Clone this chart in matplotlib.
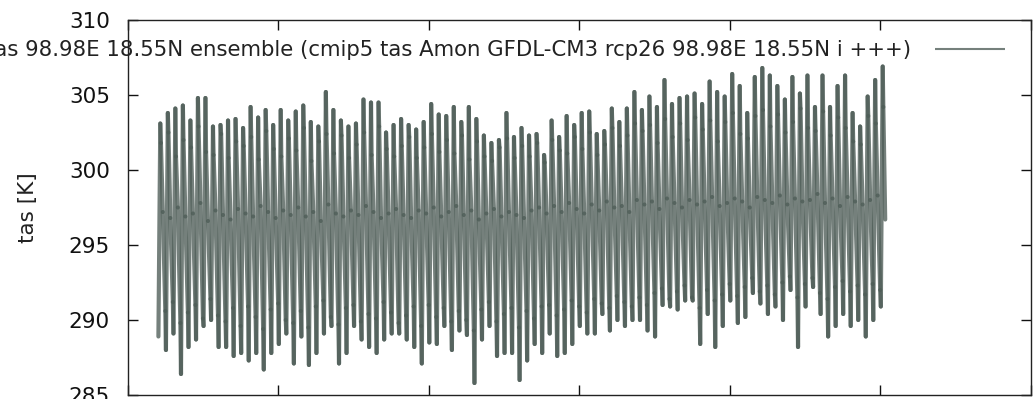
import numpy as np
import matplotlib
matplotlib.use("Agg")
import matplotlib.pyplot as plt
from matplotlib.collections import LineCollection

# Monthly near-surface air temperature at 98.98E 18.55N, GFDL-CM3 rcp26, in K.
# Each year is represented by five months: the cold-season trough (Jan),
# the hot-season peak (Apr) and its shoulder (May), the monsoon level (Aug)
# and the early cold season (Dec).
years = np.arange(2004, 2101)

jan_low = [
    288.9, 288.0, 289.1, 286.4, 288.2, 288.7, 289.6, 290.0, 288.2, 288.2, 287.6, 287.8,
    287.3, 287.8, 286.7, 287.8, 288.4, 289.1, 287.1, 288.9, 287.0, 287.8, 289.1, 289.6,
    287.1, 287.8, 289.6, 288.7, 288.2, 287.8, 288.7, 289.1,
    289.1, 288.7, 288.2, 287.1, 288.5, 288.4, 289.6, 288.0, 289.3, 289.0, 285.8, 288.7,
    289.6, 287.6, 287.8, 287.8, 286.0, 287.3, 288.4, 287.8, 289.1, 287.6, 287.8, 288.4,
    289.6, 289.1, 289.1, 290.4, 289.3, 290.0, 289.6, 290.0,
    290.0, 289.3, 288.9, 291.0, 290.9, 290.7, 291.3, 291.3, 288.4, 290.4, 288.2, 289.6,
    291.3, 289.8, 290.2, 291.8, 291.1, 290.4, 290.9, 290.0, 292.0, 288.2, 290.9, 292.2,
    290.4, 288.9, 289.6, 290.4, 289.6, 290.0, 288.9, 290.0, 290.9,
]

apr_high = [
    303.1, 303.8, 304.1, 304.3, 303.3, 304.8, 304.8, 302.9, 303.0, 303.3, 303.4, 302.8,
    304.2, 303.5, 304.0, 303.0, 304.0, 303.3, 303.9, 304.3, 303.2, 302.9, 305.2, 304.0,
    303.3, 302.9, 303.1, 304.7, 304.5, 304.5, 302.5, 303.0,
    303.4, 303.0, 302.7, 303.2, 304.4, 303.7, 303.6, 304.2, 303.2, 304.2, 303.4, 302.3,
    301.8, 302.0, 303.8, 302.2, 302.8, 302.3, 302.4, 301.0, 303.3, 302.2, 303.6, 303.0,
    303.8, 303.9, 302.4, 302.6, 304.1, 303.2, 304.1, 305.2,
    304.0, 304.9, 304.2, 306.0, 304.4, 304.8, 304.9, 305.1, 304.4, 305.9, 305.2, 304.9,
    306.4, 305.6, 303.8, 306.2, 306.8, 306.3, 305.6, 304.7, 306.2, 305.1, 306.3, 304.2,
    306.3, 304.2, 305.6, 306.3, 303.8, 302.9, 304.9, 306.0, 306.9,
]

may_shoulder = [
    301.8, 302.5, 300.9, 302.0, 301.5, 302.9, 301.2, 301.0, 302.4, 300.8, 301.9, 301.6,
    302.2, 300.7, 302.6, 301.4, 300.9, 302.1, 301.3, 302.8, 300.6, 301.9, 302.4, 301.1,
    302.3, 300.8, 301.7, 302.5, 301.0, 302.9, 301.4, 300.9,
    301.6, 302.2, 300.8, 301.5, 302.4, 301.2, 302.0, 301.1, 302.3, 300.7, 301.9, 300.9,
    300.6, 301.5, 302.1, 300.8, 301.6, 300.9, 301.8, 300.5, 302.0, 301.3, 301.1, 302.2,
    301.4, 302.5, 301.0, 301.7, 302.8, 301.6, 302.3, 303.1,
    302.6, 303.0, 301.8, 303.4, 302.2, 303.1, 302.0, 303.5, 302.7, 303.3, 301.9, 303.2,
    303.8, 302.4, 302.1, 303.6, 304.0, 302.9, 303.7, 302.5, 303.2, 304.1, 302.8, 302.6,
    303.9, 302.3, 303.5, 302.8, 301.9, 301.7, 303.6, 303.1, 304.2,
]

aug_mid = [
    297.2, 296.8, 297.5, 296.9, 297.1, 297.8, 296.6, 297.3, 297.0, 296.7, 297.4, 297.1,
    296.9, 297.6, 297.2, 296.8, 297.3, 297.0, 297.5, 296.9, 297.2, 296.6, 297.7, 297.1,
    296.9, 297.3, 297.0, 297.6, 297.2, 296.8, 297.1, 297.4,
    297.0, 296.8, 297.3, 297.1, 297.5, 296.9, 297.2, 297.6, 297.0, 297.3, 296.7, 297.1,
    297.4, 296.9, 297.2, 297.0, 296.8, 297.3, 297.5, 297.1, 297.6, 297.2, 297.8, 297.4,
    297.1, 297.7, 297.3, 297.9, 297.5, 297.6, 297.2, 298.0,
    297.7, 297.9, 297.4, 298.1, 297.8, 297.5, 298.0, 297.7, 297.9, 298.2, 297.6, 297.8,
    298.1, 297.9, 297.5, 298.2, 298.0, 297.8, 298.3, 297.7, 298.1, 297.9, 298.0, 298.4,
    297.8, 298.1, 297.6, 298.2, 297.9, 297.7, 298.0, 298.3, 296.7,
]

# the record stops before the last December
dec_cool = [
    290.6, 291.2, 289.8, 290.5, 291.0, 290.1, 291.4, 290.3, 289.9, 290.8, 289.6, 290.9,
    290.2, 289.4, 290.7, 291.1, 290.0, 289.8, 290.6, 289.5, 290.9, 291.3, 290.2, 289.7,
    290.8, 291.0, 289.9, 290.4, 290.1, 291.2, 290.5, 289.8,
    290.3, 290.9, 289.6, 291.0, 290.2, 290.8, 289.9, 290.6, 290.0, 289.3, 290.7, 291.2,
    289.9, 290.4, 290.8, 289.5, 290.6, 290.1, 290.9, 291.0, 290.3, 290.7, 291.3, 290.9,
    290.5, 291.4, 291.1, 290.8, 291.6, 291.2, 290.9, 291.5,
    291.0, 291.8, 292.1, 291.4, 291.9, 292.3, 291.5, 290.8, 292.0, 291.3, 291.7, 292.4,
    291.6, 292.2, 292.8, 291.9, 292.3, 291.7, 292.5, 292.9, 291.5, 292.4, 292.8, 291.8,
    291.4, 292.2, 292.6, 291.9, 292.3, 291.7, 292.4, 292.0, np.nan,
]

# mid-month positions of Jan, Apr, May, Aug and Dec as fractions of a year
month_pos = np.array([0.5, 3.5, 4.5, 7.5, 11.5]) / 12.0

series_label = "tas 98.98E 18.55N ensemble (cmip5 tas Amon GFDL-CM3 rcp26 98.98E 18.55N i +++)"

t = (years[:, None] + month_pos[None, :]).ravel()
tas = np.column_stack([jan_low, apr_high, may_shoulder, aug_mid, dec_cool]).ravel()
ok = ~np.isnan(tas)
t, tas = t[ok], tas[ok]

W, H = 1033, 399
fig = plt.figure(figsize=(W / 100, H / 100), dpi=100)
ax = fig.add_axes([128 / W, 4 / H, 903 / W, 375 / H])

line_color = "#4e5d57"
# each month-to-month step is its own segment so that crossings darken
pts = np.column_stack([t, tas])
segs = np.stack([pts[:-1], pts[1:]], axis=1)
lc = LineCollection(segs, colors=line_color, linewidths=3.0, alpha=0.78,
                    capstyle="round", label=series_label)
ax.add_collection(lc)

ax.set_xlim(2000, 2120)
ax.set_ylim(285, 310)
ax.set_xticks(np.arange(2000, 2121, 20))
ax.set_yticks(np.arange(285, 311, 5))
ax.tick_params(direction="in", top=True, right=True, length=7, width=1.0,
               labelsize=15.5, pad=13, colors="#111111")
ax.tick_params(axis="x", labelbottom=False)
for s in ax.spines.values():
    s.set_linewidth(1.0)
    s.set_color("#222222")

ax.set_ylabel("tas [K]", fontsize=15.5, color="#222222")
ax.yaxis.set_label_coords(-0.1, 0.5)

leg = ax.legend(loc="center right", bbox_to_anchor=(1005 / W, 1 - 50 / H),
                bbox_transform=fig.transFigure, frameon=False, markerfirst=False,
                handlelength=3.3, handletextpad=1.1, borderpad=0, borderaxespad=0,
                fontsize=15.3, labelcolor="#222222")
for h in leg.legend_handles:
    h.set_linewidth(1.5)

fig.savefig("out.png", dpi=100, facecolor="white")
